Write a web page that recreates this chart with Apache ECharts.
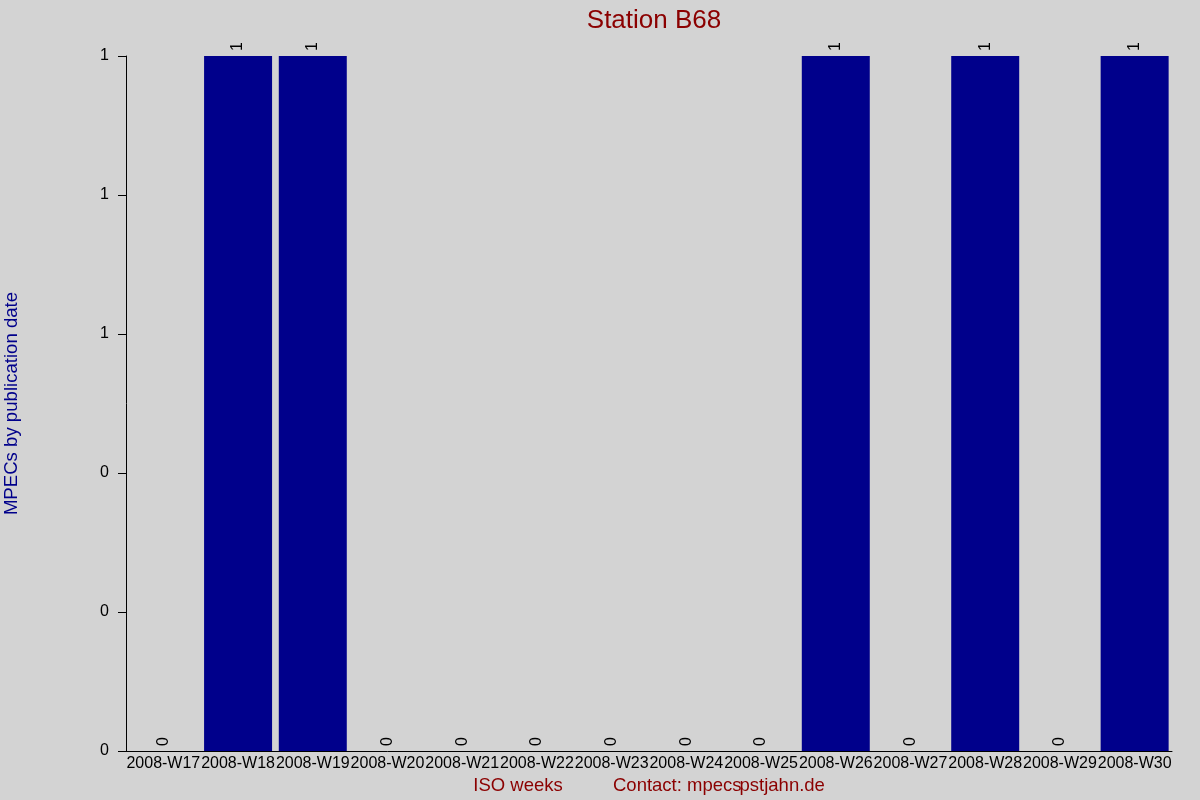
<!DOCTYPE html>
<html><head><meta charset="utf-8">
<script src="https://cdn.jsdelivr.net/npm/echarts@6/dist/echarts.min.js"></script>
<style>html,body{margin:0;padding:0;background:#d3d3d3}#c{width:1200px;height:800px}</style>
</head><body><div id="c"></div>
<script>
const categories = ["2008-W17","2008-W18","2008-W19","2008-W20","2008-W21","2008-W22","2008-W23","2008-W24","2008-W25","2008-W26","2008-W27","2008-W28","2008-W29","2008-W30"];
const values = [0,1,1,0,0,0,0,0,0,1,0,1,0,1];
const titleText = "Station B68";
const yName = "MPECs by publication date";
const xName = "ISO weeks";
const contactA = "Contact: mpecs";
const contactB = "pstjahn.de";

const FONT = '"Liberation Sans", Arial, sans-serif';
const cv = document.createElement('canvas').getContext('2d');
cv.font = '18.5px ' + FONT;
const wA = cv.measureText(contactA).width;

const chart = echarts.init(document.getElementById('c'));
chart.setOption({
  backgroundColor: '#d3d3d3',
  animation: false,
  title: { text: titleText, left: 649, top: 3, textAlign: 'center',
    textStyle: { color: '#8b0000', fontSize: 26, fontWeight: 'normal', fontFamily: FONT } },
  grid: { left: 126, right: 28, top: 56, bottom: 49, containLabel: false, outerBoundsMode: 'none' },
  xAxis: {
    type: 'category', data: categories,
    axisLine: { lineStyle: { color: '#000', width: 1 } },
    axisTick: { show: false },
    axisLabel: { interval: 0, color: '#000', fontSize: 16, fontFamily: FONT, margin: 5, hideOverlap: false }
  },
  yAxis: {
    type: 'value', min: 0, max: 1, interval: 0.2,
    name: yName, nameLocation: 'middle', nameGap: 105,
    nameTextStyle: { color: '#00008b', fontSize: 18.6, fontFamily: FONT },
    axisLine: { show: true, lineStyle: { color: '#000', width: 1 } },
    axisTick: { show: true, length: 8, lineStyle: { color: '#000' } },
    splitLine: { show: false },
    axisLabel: { color: '#000', fontSize: 16, fontFamily: FONT, margin: 17,
      formatter: v => String(Math.round(v)) }
  },
  series: [{
    type: 'bar', data: values, barCategoryGap: '9%',
    itemStyle: { color: '#00008b' },
    label: { show: true, position: 'top', distance: 5, rotate: 90, align: 'left', verticalAlign: 'middle',
      color: '#000', fontSize: 16, fontFamily: FONT }
  }],
  graphic: [
    { type: 'text', x: 518, y: 786, style: { text: xName, fill: '#8b0000', font: '18.5px ' + FONT, textAlign: 'center', textVerticalAlign: 'middle' } },
    { type: 'text', x: 613, y: 786, style: { text: contactA, fill: '#8b0000', font: '18.5px ' + FONT, textAlign: 'left', textVerticalAlign: 'middle' } },
    { type: 'text', x: 613 + wA - 2, y: 786, style: { text: contactB, fill: '#8b0000', font: '18.5px ' + FONT, textAlign: 'left', textVerticalAlign: 'middle' } }
  ]
});
</script></body></html>
